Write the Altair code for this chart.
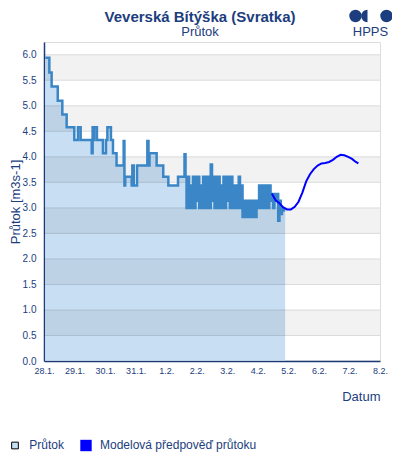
import json
import altair as alt
import pandas as pd

# ---------------- text ----------------
TITLE = "Veverská Bítýška (Svratka)"
SUBTITLE = "Průtok"
Y_TITLE = "Průtok [m3s-1]"
X_TITLE = "Datum"
LEGEND_LABELS = ["Průtok", "Modelová předpověď průtoku"]
LOGO_TEXT = "HPPS"

X_TICK_LABELS = ["28.1.", "29.1.", "30.1.", "31.1.", "1.2.", "2.2.", "3.2.",
                 "4.2.", "5.2.", "6.2.", "7.2.", "8.2."]
X_TICK_HOURS = [0, 24, 48, 72, 96, 120, 144, 168, 192, 216, 240, 264]
Y_TICKS = [0.0, 0.5, 1.0, 1.5, 2.0, 2.5, 3.0, 3.5, 4.0, 4.5, 5.0, 5.5, 6.0]

# ---------------- measured flow (hours since 28.1. 00:00) ----------------
flow_hours = [1, 4.2, 6.0, 10.8, 14.4, 17.8, 23.8, 26.7, 28.8, 37.5, 38.2, 39.0,
              39.5, 41.6, 46.3, 48.7, 49.8, 52.6, 54.2, 57.0, 62.6, 63.2, 63.8,
              68.9, 69.4, 70.5, 73.1, 81.2, 82.1, 82.9, 88.5, 93.7, 97.7, 105.3,
              110.4, 111.2,
              112, 113, 114, 115, 116, 117, 118, 119, 120, 121, 122, 123, 124,
              125, 126, 127, 128, 129, 130, 131, 132, 133, 134, 135, 136, 137,
              138, 139, 140, 141, 142, 143, 144, 145, 146, 147, 148, 149, 150,
              151, 152, 153, 154, 155, 156, 157, 158, 159, 160, 161, 162, 163,
              164, 165, 166, 167, 168, 169, 170, 171, 172, 173, 174, 175, 176,
              177, 178, 179, 180, 181, 182, 183, 184, 185, 186, 187, 188, 189.5]
flow_values = [5.94, 5.65, 5.38, 5.10, 4.83, 4.58, 4.33, 4.58, 4.33, 4.07, 4.58, 4.33,
               4.58, 4.33, 4.07, 4.33, 4.58, 4.33, 4.07, 3.83, 4.31, 3.44, 3.61,
               3.44, 3.83, 3.44, 3.83, 4.31, 3.83, 4.07, 3.83, 3.61, 3.44, 3.61,
               4.05, 3.61,
               3.0, 3.61, 3.0, 3.44, 3.0, 3.61, 3.0, 3.61, 3.14, 3.61, 3.0, 3.44, 3.0,
               3.61, 3.0, 3.61, 3.0, 3.61, 3.0, 3.85, 3.14, 3.61, 3.0, 3.61, 3.0, 3.61,
               3.0, 3.44, 3.0, 3.61, 3.0, 3.61, 3.14, 3.61, 3.0, 3.61, 3.0, 3.44, 3.0,
               3.44, 3.0, 3.61, 3.0, 3.44, 2.82, 3.14, 2.82, 3.14, 2.82, 3.14, 2.82, 3.14,
               2.82, 3.14, 2.82, 3.14, 3.0, 3.44, 3.0, 3.44, 3.0, 3.44, 3.0, 3.44, 3.0,
               3.44, 3.14, 3.27, 3.0, 3.27, 3.14, 3.27, 2.75, 3.14, 2.88, 3.0, 2.95, 2.95]

# ---------------- model forecast ----------------
forecast_hours = [179, 182, 185, 188, 191, 194, 197, 200, 203, 206, 209, 212, 215,
                  218, 221, 224, 227, 230, 233, 236, 239, 242, 245, 247]
forecast_values = [3.28, 3.15, 3.09, 3.01, 2.97, 2.97, 3.02, 3.12, 3.30, 3.52, 3.66,
                   3.76, 3.83, 3.87, 3.88, 3.90, 3.94, 4.00, 4.04, 4.03, 4.00, 3.96,
                   3.90, 3.87]

# ---------------- styling ----------------
NAVY = "#1c3d7e"
FONT = "Liberation Sans"
W, H = 336, 319
AREA_FILL = "#c8def2"
LINE_COL = "#3a86c6"
FC_COL = "#0000ff"

flow_df = pd.DataFrame({"h": flow_hours, "v": flow_values})
fc_df = pd.DataFrame({"h": forecast_hours, "v": forecast_values})
band_df = pd.DataFrame({"v": Y_TICKS[1::2], "v2": [t + 0.5 for t in Y_TICKS[1::2]]})
grid_df = pd.DataFrame({"v": Y_TICKS})

xscale = alt.Scale(domain=[0, 264], nice=False, zero=False)
yscale = alt.Scale(domain=[0, 6.25], nice=False)

label_expr = json.dumps(X_TICK_LABELS) + "[round(datum.value / 24)]"
xaxis = alt.Axis(values=X_TICK_HOURS, labelExpr=label_expr, title=X_TITLE,
                 titleAnchor="end", titleFontSize=13, titleFontWeight="normal",
                 titleColor=NAVY, titlePadding=15, labelColor=NAVY, labelFontSize=9,
                 labelPadding=5, ticks=False, grid=False, domainColor=NAVY,
                 domainWidth=1.5, labelFont=FONT, titleFont=FONT, labelOverlap=False,
                 labelFlush=False)
yaxis = alt.Axis(values=Y_TICKS, format=".1f", title=Y_TITLE, titleFontSize=13,
                 titleFontWeight="normal", titleColor=NAVY, titlePadding=0,
                 labelColor=NAVY, labelFontSize=10, labelPadding=8, ticks=False,
                 grid=False, domainColor=NAVY, domainWidth=1.5, labelFont=FONT,
                 titleFont=FONT)

X = alt.X("h:Q", scale=xscale, axis=xaxis)
Y = alt.Y("v:Q", scale=yscale, axis=yaxis)

area = alt.Chart(flow_df).mark_area(interpolate="step-after", color=AREA_FILL).encode(x=X, y=Y)

bands = alt.Chart(band_df).mark_rect(color="black", opacity=0.05).encode(
    x=alt.value(0), x2=alt.value(W), y=Y, y2="v2:Q")

grid = alt.Chart(grid_df).mark_rule(color="black", opacity=0.12, strokeWidth=1).encode(
    x=alt.value(0), x2=alt.value(W), y=Y)

line = alt.Chart(flow_df).mark_line(interpolate="step-after", color=LINE_COL,
                                    strokeWidth=2.5).encode(x=X, y=Y)

fc = alt.Chart(fc_df).mark_line(color=FC_COL, strokeWidth=2).encode(x=X, y=Y)

# titles
ttl_df = pd.DataFrame({"t": [TITLE], "s": [SUBTITLE]})
ttl = alt.Chart(ttl_df).mark_text(font=FONT, fontSize=15, fontWeight="bold", color=NAVY,
                                  align="center", baseline="middle").encode(
    x=alt.value(156), y=alt.value(-25), text="t:N")
sub = alt.Chart(ttl_df).mark_text(font=FONT, fontSize=13, color=NAVY,
                                  align="center", baseline="middle").encode(
    x=alt.value(156), y=alt.value(-10), text="s:N")

# logo
logo_df = pd.DataFrame({"t": [LOGO_TEXT]})
c1 = alt.Chart(logo_df).mark_point(shape="circle", filled=True, color=NAVY, opacity=1,
                                   size=154).encode(x=alt.value(311.5), y=alt.value(-26))
c2 = alt.Chart(logo_df).mark_point(shape="M 0 -1 A 1 1 0 0 0 0 1 Z", filled=True,
                                   color=NAVY, opacity=1, size=154).encode(
    x=alt.value(323.5), y=alt.value(-26))
c3 = alt.Chart(logo_df).mark_point(shape="circle", filled=True, color=NAVY, opacity=1,
                                   size=154).encode(x=alt.value(342.5), y=alt.value(-26))
logo_t = alt.Chart(logo_df).mark_text(font=FONT, fontSize=13, color=NAVY,
                                      align="center", baseline="middle").encode(
    x=alt.value(326.5), y=alt.value(-10), text="t:N")

# legend
leg_df = pd.DataFrame({"name": LEGEND_LABELS})
s1 = alt.Chart(leg_df).transform_filter(alt.datum.name == LEGEND_LABELS[0]).mark_point(
    shape="square", filled=True, fill=AREA_FILL, stroke="black", strokeWidth=1,
    opacity=1, size=45).encode(x=alt.value(-29), y=alt.value(403.5))
t1 = alt.Chart(leg_df).transform_filter(alt.datum.name == LEGEND_LABELS[0]).mark_text(
    font=FONT, fontSize=12, color=NAVY, align="left", baseline="middle").encode(
    x=alt.value(-14.7), y=alt.value(402.5), text="name:N")
s2 = alt.Chart(leg_df).transform_filter(alt.datum.name == LEGEND_LABELS[1]).mark_point(
    shape="square", filled=True, color=FC_COL, opacity=1, size=130).encode(
    x=alt.value(42), y=alt.value(403.5))
t2 = alt.Chart(leg_df).transform_filter(alt.datum.name == LEGEND_LABELS[1]).mark_text(
    font=FONT, fontSize=12, color=NAVY, align="left", baseline="middle").encode(
    x=alt.value(56), y=alt.value(402.5), text="name:N")

chart = alt.layer(area, bands, grid, line, fc, ttl, sub, c1, c2, c3, logo_t,
                  s1, t1, s2, t2).properties(
    width=W, height=H,
    autosize=alt.AutoSizeParams(type="none"),
    padding={"left": 36, "top": 34, "right": 12, "bottom": 91},
).configure_view(stroke="#d4d4d4", strokeWidth=1).configure(font=FONT)

chart.save("out.html", embed_options={"renderer": "svg", "actions": False})
